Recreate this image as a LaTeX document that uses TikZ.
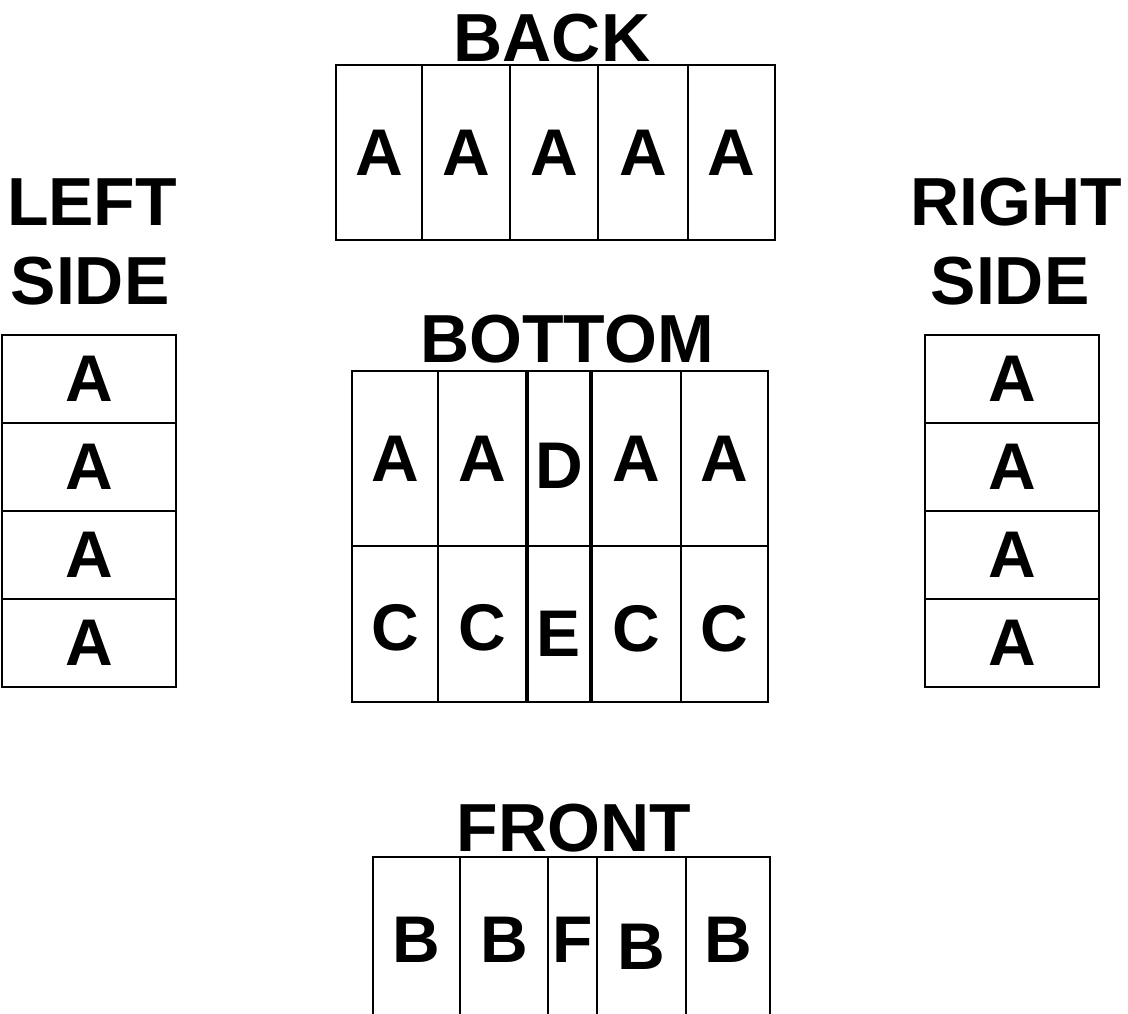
\documentclass[tikz,border=0pt]{standalone}
\usepackage{fontspec}
\setmainfont{Liberation Sans}
\tikzset{
  cellbox/.style={draw=black, line width=1.3pt, inner sep=0pt, outer sep=0pt,
    font=\fontsize{66}{66}\selectfont\bfseries},
  lowered/.style={text height={47.3pt+2*#1}, text depth=0pt},
  title/.style={anchor=base, inner sep=0pt, font=\fontsize{68}{68}\selectfont\bfseries}
}
% #1 options, #2 name, #3 x1, #4 y1, #5 x2, #6 y2, #7 text
\newcommand\mkcell[7][]{%
  \node[cellbox, minimum width={(#5-#3)*1pt}, minimum height={(#6-#4)*1pt}, #1]
    (#2) at ({(#3+#5)/2},{(#4+#6)/2}) {#7};}
\begin{document}
\begin{tikzpicture}[x=1pt,y=-1pt]
\useasboundingbox[fill=white] (0,0) rectangle (1128,1013);
\clip (0,0) rectangle (1128,1013);

% titles
\node[title] (tback) at (552,61) {BACK};
\node[title] (tleft1) at (92,225) {LEFT};
\node[title] (tleft2) at (90,304) {SIDE};
\node[title] (tright1) at (1016,225) {RIGHT};
\node[title] (tright2) at (1010,304) {SIDE};
\node[title] (tbottom) at (567,362) {BOTTOM};
\node[title] (tfront) at (574,851) {FRONT};

% BACK
\mkcell{b1}{336}{65}{422}{240}{A}
\mkcell{b2}{422}{65}{510}{240}{A}
\mkcell{b3}{510}{65}{598}{240}{A}
\mkcell{b4}{598}{65}{688}{240}{A}
\mkcell{b5}{688}{65}{775}{240}{A}

% LEFT SIDE
\mkcell{l1}{2}{335}{176}{423}{A}
\mkcell{l2}{2}{423}{176}{511}{A}
\mkcell{l3}{2}{511}{176}{599}{A}
\mkcell{l4}{2}{599}{176}{687}{A}

% RIGHT SIDE
\mkcell{r1}{925}{335}{1099}{423}{A}
\mkcell{r2}{925}{423}{1099}{511}{A}
\mkcell{r3}{925}{511}{1099}{599}{A}
\mkcell{r4}{925}{599}{1099}{687}{A}

% BOTTOM
\mkcell{m1}{352}{371}{438}{546}{A}
\mkcell{m2}{438}{371}{526}{546}{A}
\mkcell[lowered=6pt]{m3}{528}{371}{590}{546}{D}
\mkcell{m4}{592}{371}{681}{546}{A}
\mkcell{m5}{681}{371}{768}{546}{A}
\mkcell[lowered=3pt]{n1}{352}{546}{438}{702}{C}
\mkcell[lowered=3pt]{n2}{438}{546}{526}{702}{C}
\mkcell[lowered=9pt]{n3}{528}{546}{590}{702}{E}
\mkcell[lowered=4pt]{n4}{592}{546}{681}{702}{C}
\mkcell[lowered=4pt]{n5}{681}{546}{768}{702}{C}

% FRONT
\mkcell{f1}{373}{857}{460}{1023}{B}
\mkcell{f2}{460}{857}{548}{1023}{B}
\mkcell{f3}{548}{857}{597}{1023}{F}
\mkcell[lowered=6pt]{f4}{597}{857}{686}{1023}{B}
\mkcell{f5}{686}{857}{770}{1023}{B}
\end{tikzpicture}
\end{document}
